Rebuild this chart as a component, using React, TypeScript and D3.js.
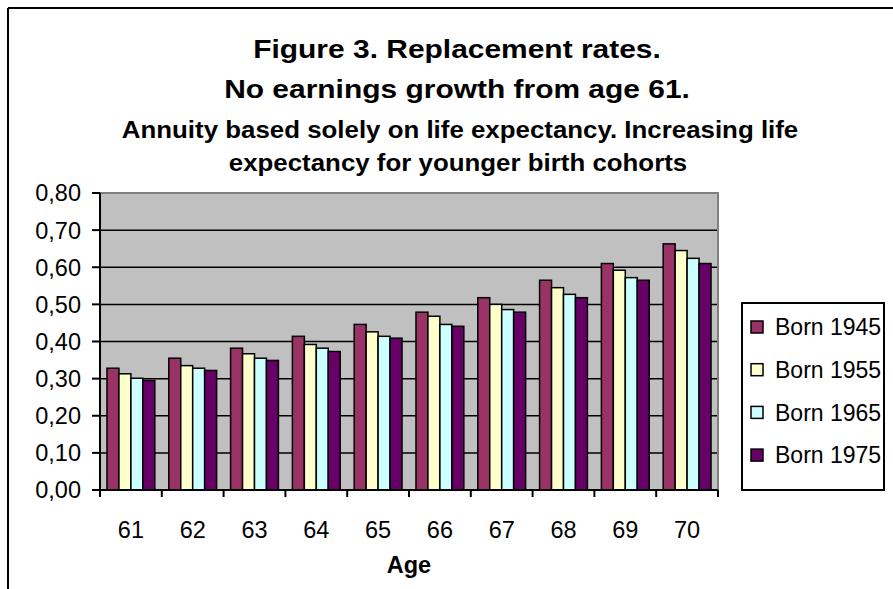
import React from "react";
import * as d3 from "d3";

const ages = ["61", "62", "63", "64", "65", "66", "67", "68", "69", "70"];
const cohorts = ["Born 1945", "Born 1955", "Born 1965", "Born 1975"];
const born1945 = [0.328, 0.355, 0.382, 0.414, 0.446, 0.479, 0.518, 0.565, 0.61, 0.663];
const born1955 = [0.313, 0.335, 0.367, 0.392, 0.426, 0.468, 0.5, 0.545, 0.592, 0.645];
const born1965 = [0.301, 0.328, 0.355, 0.382, 0.414, 0.446, 0.486, 0.527, 0.572, 0.624];
const born1975 = [0.295, 0.322, 0.349, 0.373, 0.409, 0.441, 0.479, 0.518, 0.565, 0.61];
const yTicks = [0, 0.1, 0.2, 0.3, 0.4, 0.5, 0.6, 0.7, 0.8];
const colors = ["#993366", "#FFFFCC", "#CCFFFF", "#660066"];

const series = [born1945, born1955, born1965, born1975];

const W = 893;
const H = 589;
const plot = { left: 100, right: 718, top: 193, bottom: 490 };
const font = "'Liberation Sans', Arial, sans-serif";

// titles in the original are a little wider than Arial, so stretch them
const Stretched = ({ x, y, size, sx, children }: any) => (
  <g transform={`translate(${x},${y}) scale(${sx},1)`}>
    <text x={0} y={0} fontSize={size}>
      {children}
    </text>
  </g>
);

const App = () => {
  const x = d3
    .scaleBand<string>()
    .domain(ages)
    .range([plot.left, plot.right])
    .paddingInner(0.226)
    .paddingOuter(0.113);
  const xs = d3
    .scaleBand<number>()
    .domain(d3.range(cohorts.length))
    .range([0, x.bandwidth()]);
  const y = d3.scaleLinear().domain([0, 0.8]).range([plot.bottom, plot.top]);
  const fmt = (v: number) => v.toFixed(2).replace(".", ",");
  const step = x.step();

  return (
    <svg
      width={W}
      height={H}
      style={{ display: "block", position: "absolute", left: 0, top: 0 }}
      fontFamily={font}
    >
      <rect x={0} y={0} width={W} height={H} fill="#fff" />
      {/* outer frame */}
      <line x1={8} y1={8} x2={W} y2={8} stroke="#000" strokeWidth={2} />
      <line x1={8} y1={8} x2={8} y2={H} stroke="#000" strokeWidth={2} />

      {/* titles */}
      <g fontWeight="bold" textAnchor="middle" fill="#000">
        <Stretched x={457} y={58} size={26.5} sx={1.13}>
          Figure 3. Replacement rates.
        </Stretched>
        <Stretched x={457} y={98} size={26.5} sx={1.13}>
          No earnings growth from age 61.
        </Stretched>
        <Stretched x={460} y={138} size={23} sx={1.125}>
          Annuity based solely on life expectancy. Increasing life
        </Stretched>
        <Stretched x={458} y={171} size={23} sx={1.125}>
          expectancy for younger birth cohorts
        </Stretched>
      </g>

      {/* plot area */}
      <rect
        x={plot.left}
        y={plot.top}
        width={plot.right - plot.left}
        height={plot.bottom - plot.top}
        fill="#C0C0C0"
      />
      {yTicks.slice(1, -1).map((t) => (
        <line
          key={t}
          x1={plot.left}
          x2={plot.right}
          y1={y(t)}
          y2={y(t)}
          stroke="#000"
          strokeWidth={1.5}
        />
      ))}
      <polyline
        points={`${plot.left},${plot.top} ${plot.right},${plot.top} ${plot.right},${plot.bottom}`}
        fill="none"
        stroke="#808080"
        strokeWidth={2}
      />

      {/* bars */}
      {ages.map((a, i) => (
        <g key={a} transform={`translate(${x(a)},0)`}>
          {series.map((s, j) => (
            <rect
              key={j}
              x={xs(j)}
              y={y(s[i])}
              width={xs.bandwidth()}
              height={y(0) - y(s[i])}
              fill={colors[j]}
              stroke="#000"
              strokeWidth={1.5}
            />
          ))}
        </g>
      ))}

      {/* axes */}
      <line x1={plot.left} x2={plot.left} y1={plot.top} y2={plot.bottom} stroke="#000" strokeWidth={2} />
      <line x1={plot.left} x2={plot.right} y1={plot.bottom} y2={plot.bottom} stroke="#000" strokeWidth={2} />
      {yTicks.map((t) => (
        <g key={t}>
          <line x1={plot.left - 8} x2={plot.left} y1={y(t)} y2={y(t)} stroke="#000" strokeWidth={2} />
          <text x={81} y={y(t)} dy="0.36em" textAnchor="end" fontSize={23.5}>
            {fmt(t)}
          </text>
        </g>
      ))}
      {d3.range(ages.length + 1).map((k) => (
        <line
          key={k}
          x1={plot.left + k * step}
          x2={plot.left + k * step}
          y1={plot.bottom}
          y2={plot.bottom + 7}
          stroke="#000"
          strokeWidth={2}
        />
      ))}
      {ages.map((a) => (
        <text key={a} x={x(a)! + x.bandwidth() / 2} y={538} textAnchor="middle" fontSize={23.5}>
          {a}
        </text>
      ))}
      <text x={409} y={573} textAnchor="middle" fontSize={23.5} fontWeight="bold">
        Age
      </text>

      {/* legend */}
      <rect x={742} y={303} width={142} height={187} fill="#fff" stroke="#000" strokeWidth={2} />
      {cohorts.map((c, j) => {
        const cy = 327 + j * 42.7;
        return (
          <g key={c}>
            <rect x={751} y={cy - 6} width={12} height={12} fill={colors[j]} stroke="#000" strokeWidth={1.5} />
            <text x={775} y={cy} dy="0.36em" fontSize={23}>
              {c}
            </text>
          </g>
        );
      })}
    </svg>
  );
};

export default App;
